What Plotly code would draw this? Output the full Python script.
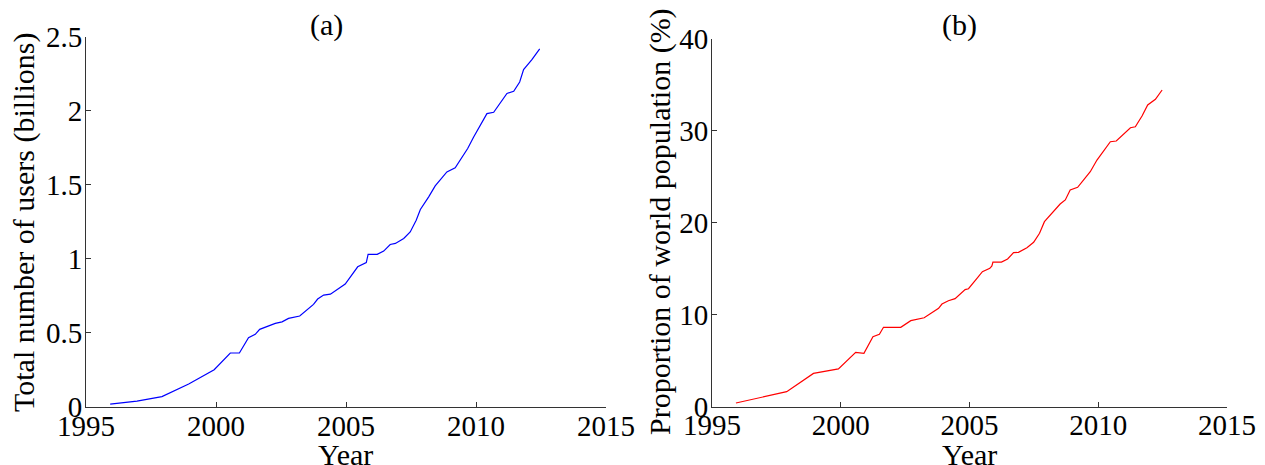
import plotly.graph_objects as go

# Panel (a): total internet users (billions)
years_a = [1995.93, 1996.96, 1997.92, 1998.95, 1999.93, 2000.55, 2000.90, 2001.25, 2001.51, 2001.68,
           2002.28, 2002.54, 2002.79, 2003.22, 2003.75, 2003.91, 2004.14, 2004.40, 2004.97, 2005.45,
           2005.78, 2005.85, 2006.20, 2006.45, 2006.70, 2006.90, 2007.22, 2007.47, 2007.70, 2007.86,
           2008.18, 2008.43, 2008.88, 2009.20, 2009.68, 2009.91, 2010.42, 2010.68, 2011.19, 2011.45,
           2011.68, 2011.83, 2012.15, 2012.45]
users_a = [0.018, 0.038, 0.068, 0.153, 0.250, 0.363, 0.363, 0.466, 0.489, 0.523,
           0.563, 0.574, 0.597, 0.613, 0.692, 0.728, 0.755, 0.761, 0.829, 0.946,
           0.975, 1.030, 1.030, 1.052, 1.097, 1.104, 1.138, 1.182, 1.261, 1.334,
           1.419, 1.493, 1.588, 1.615, 1.746, 1.824, 1.982, 1.991, 2.118, 2.133,
           2.196, 2.280, 2.347, 2.420]

# Panel (b): proportion of world population (%)
years_b = [1995.93, 1996.93, 1997.90, 1998.94, 1999.91, 2000.58, 2000.90, 2001.25, 2001.50, 2001.66,
           2002.33, 2002.72, 2003.24, 2003.80, 2003.93, 2004.18, 2004.44, 2004.83, 2004.96, 2005.29,
           2005.50, 2005.79, 2005.87, 2005.91, 2006.24, 2006.48, 2006.71, 2006.90, 2007.23, 2007.49,
           2007.72, 2007.91, 2008.20, 2008.52, 2008.72, 2008.91, 2009.20, 2009.69, 2009.95, 2010.47,
           2010.70, 2011.25, 2011.44, 2011.70, 2011.92, 2012.22, 2012.48]
share_b = [0.38, 1.00, 1.61, 3.60, 4.08, 5.89, 5.78, 7.59, 7.85, 8.61,
           8.61, 9.33, 9.65, 10.67, 11.14, 11.50, 11.72, 12.70, 12.80, 13.93,
           14.65, 15.02, 15.27, 15.70, 15.70, 16.03, 16.72, 16.76, 17.26, 17.85,
           18.83, 20.09, 21.00, 22.01, 22.45, 23.53, 23.83, 25.52, 26.79, 28.78,
           28.86, 30.30, 30.41, 31.58, 32.77, 33.39, 34.40]

x_ticks = [1995, 2000, 2005, 2010, 2015]
y_ticks_a = [0, 0.5, 1, 1.5, 2, 2.5]
y_ticks_a_text = ["0", "0.5", "1", "1.5", "2", "2.5"]
y_ticks_b = [0, 10, 20, 30, 40]

# The page body adds an 8 px margin, so the figure is 8 px smaller than the window
OFF = 8
W, H = 1265 - OFF, 465 - OFF
FONT = "Liberation Serif"
AX = "#333333"

fig = go.Figure()
fig.add_trace(go.Scatter(x=years_a, y=users_a, mode="lines",
                         line=dict(color="#0000ff", width=1.2), xaxis="x", yaxis="y",
                         showlegend=False))
fig.add_trace(go.Scatter(x=years_b, y=share_b, mode="lines",
                         line=dict(color="#ff0000", width=1.2), xaxis="x2", yaxis="y2",
                         showlegend=False))

def px_x(p):
    return (p - OFF) / W

def px_y(p):
    return (H - (p - OFF)) / H

common_axis = dict(showline=True, linecolor=AX, linewidth=1, ticks="inside", ticklen=5,
                   tickcolor=AX, tickwidth=1, showgrid=False, zeroline=False,
                   automargin=False,
                   tickfont=dict(family=FONT, size=29, color="black"), mirror=False)

fig.update_layout(
    width=W, height=H,
    margin=dict(l=0, r=0, t=0, b=0, pad=0, autoexpand=False),
    paper_bgcolor="white", plot_bgcolor="white",
    font=dict(family=FONT, size=29, color="black"),
    xaxis=dict(domain=[px_x(86), px_x(606)], range=[1995, 2015], tickvals=x_ticks,
               anchor="y", ticklabelstandoff=-7, **common_axis),
    yaxis=dict(domain=[px_y(406.7), px_y(37)], range=[0, 2.5], tickvals=y_ticks_a,
               ticktext=y_ticks_a_text, anchor="x", ticklabelstandoff=-3, **common_axis),
    xaxis2=dict(domain=[px_x(712), px_x(1227)], range=[1995, 2015], tickvals=x_ticks,
                anchor="y2", ticklabelstandoff=-7, **common_axis),
    yaxis2=dict(domain=[px_y(406.5), px_y(38.5)], range=[0, 40], tickvals=y_ticks_b,
                anchor="x2", ticklabelstandoff=-3, **common_axis),
)

tfont = dict(family=FONT, size=30, color="black")
annotations = [
    dict(text="(a)", x=px_x(326), y=px_y(24.5), xref="paper", yref="paper",
         xanchor="center", yanchor="middle", showarrow=False, font=tfont),
    dict(text="(b)", x=px_x(959), y=px_y(24.5), xref="paper", yref="paper",
         xanchor="center", yanchor="middle", showarrow=False, font=tfont),
    dict(text="Year", x=px_x(346), y=px_y(436), xref="paper", yref="paper",
         xanchor="center", yanchor="top", showarrow=False, font=tfont),
    dict(text="Year", x=px_x(969.5), y=px_y(436), xref="paper", yref="paper",
         xanchor="center", yanchor="top", showarrow=False, font=tfont),
    dict(text="Total number of users (billions)", x=px_x(24), y=px_y(222), xref="paper",
         yref="paper", xanchor="center", yanchor="middle", textangle=-90, showarrow=False,
         font=tfont),
    dict(text="Proportion of world population (%)", x=px_x(660), y=px_y(222), xref="paper",
         yref="paper", xanchor="center", yanchor="middle", textangle=-90, showarrow=False,
         font=tfont),
]
fig.update_layout(annotations=annotations)

fig.write_html("out.html")
